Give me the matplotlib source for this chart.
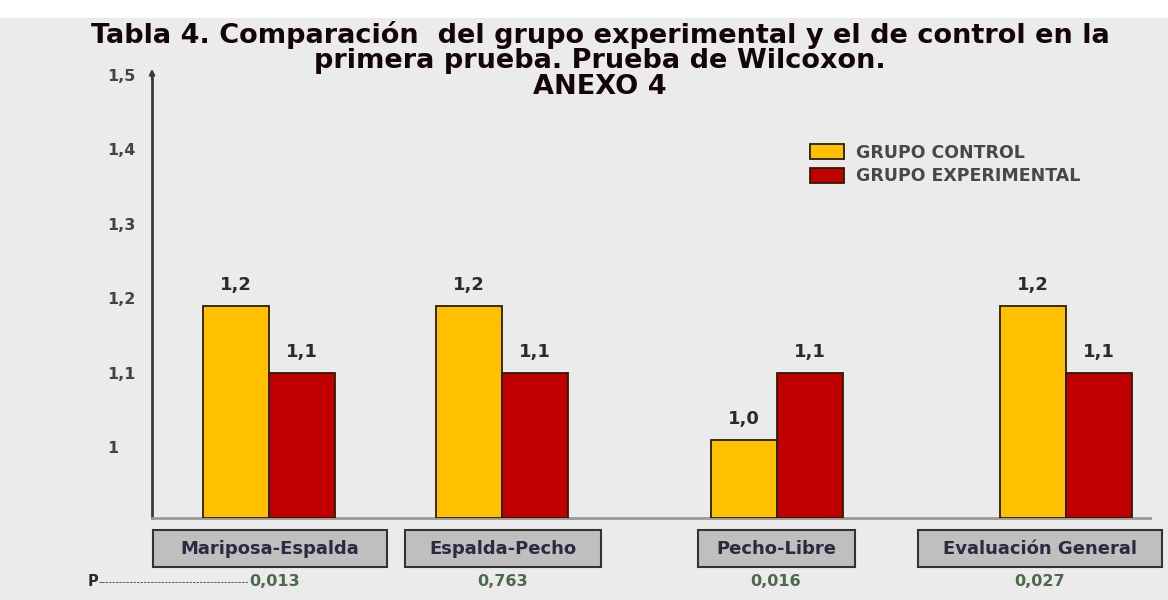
import matplotlib
matplotlib.use("Agg")
import matplotlib.pyplot as plt
from matplotlib.patches import Rectangle

# ---- data ----
categories = ["Mariposa-Espalda", "Espalda-Pecho", "Pecho-Libre", "Evaluación General"]
control = [1.19, 1.19, 1.01, 1.19]
experimental = [1.10, 1.10, 1.10, 1.10]
control_labels = ["1,2", "1,2", "1,0", "1,2"]
experimental_labels = ["1,1", "1,1", "1,1", "1,1"]
p_values = ["0,013", "0,763", "0,016", "0,027"]
yticks = [1.0, 1.1, 1.2, 1.3, 1.4, 1.5]
ytick_labels = ["1", "1,1", "1,2", "1,3", "1,4", "1,5"]
series_names = ["GRUPO CONTROL", "GRUPO EXPERIMENTAL"]
title_lines = ["Tabla 4. Comparación  del grupo experimental y el de control en la",
               "primera prueba. Prueba de Wilcoxon.",
               "ANEXO 4"]

# ---- layout / style ----
W, H = 11.68, 6.0
group_x = [1.17, 3.51, 6.26, 9.16]
bar_w = 0.66
label_x_px = [275, 503, 776, 1040]
box_px = [(153, 387), (405, 601), (698, 855), (918, 1162)]
c_yellow = "#FFC000"
c_red = "#C00000"
edge = "#2b1d00"
bg = "#ebebeb"
font = "DejaVu Sans"
base = 0.9046

fig = plt.figure(figsize=(W, H), dpi=100, facecolor=bg)
fig.patches.append(Rectangle((0, 1 - 18 / 600), 1, 18 / 600, transform=fig.transFigure,
                             facecolor="white", edgecolor="none", zorder=0))

ax = fig.add_axes([152 / 1168, 1 - 518 / 600, (1150 - 152) / 1168, (518 - 75) / 600])
ax.set_facecolor(bg)
ax.set_xlim(0, 10)
ax.set_ylim(base, 1.5)

bars_c = ax.bar([x - bar_w / 2 for x in group_x], [v - base for v in control], bar_w,
                bottom=base, color=c_yellow, edgecolor=edge, linewidth=1.3,
                label=series_names[0], zorder=3)
bars_e = ax.bar([x + bar_w / 2 for x in group_x], [v - base for v in experimental], bar_w,
                bottom=base, color=c_red, edgecolor=edge, linewidth=1.3,
                label=series_names[1], zorder=3)

for bars, labels in ((bars_c, control_labels), (bars_e, experimental_labels)):
    for b, t in zip(bars, labels):
        ax.text(b.get_x() + b.get_width() / 2, b.get_y() + b.get_height() + 0.016, t,
                ha="center", va="bottom", fontsize=13, fontweight="bold", color="#2a2a2a",
                family=font)

# axes styling
for s in ["top", "right"]:
    ax.spines[s].set_visible(False)
ax.spines["left"].set_color("#3a3a3a")
ax.spines["left"].set_linewidth(2)
ax.spines["bottom"].set_color("#9a9a9a")
ax.spines["bottom"].set_linewidth(2)
ax.set_xticks([])
ax.set_yticks(yticks)
ax.set_yticklabels(ytick_labels, fontsize=11.5, fontweight="bold", color="#3c4a3c", family=font)
ax.tick_params(axis="y", length=0, pad=32)
for lbl in ax.get_yticklabels():
    lbl.set_horizontalalignment("left")
ax.annotate("", xy=(0, 1.512), xytext=(0, 1.49), xycoords="data",
            arrowprops=dict(arrowstyle="-|>", color="#3a3a3a", lw=1.5, mutation_scale=8),
            annotation_clip=False)

# legend
ax.legend(handles=[bars_c, bars_e], labels=series_names, loc="upper left",
          bbox_to_anchor=((803 - 152) / 998, (518 - 137) / 443), frameon=False,
          prop={"family": font, "size": 12.5, "weight": "bold"}, labelcolor="#484848",
          handlelength=1.95, handleheight=0.95, labelspacing=0.3, handletextpad=0.7,
          borderaxespad=0)

# category boxes
for (x0, x1), cat in zip(box_px, categories):
    fig.patches.append(Rectangle((x0 / 1168, 1 - 567 / 600), (x1 - x0) / 1168, 37 / 600,
                                 transform=fig.transFigure, facecolor="#bfbfbf",
                                 edgecolor="#333333", linewidth=1.5, zorder=2))
    fig.text((x0 + x1) / 2 / 1168, 1 - 549 / 600, cat, ha="center", va="center",
             fontsize=13, fontweight="bold", color="#2a2a40", family=font, zorder=3)

# p-values
fig.text(88 / 1168, 1 - 582 / 600, "P", ha="left", va="center", fontsize=10.5,
         fontweight="bold", color="#2a2a2a", family=font)
fig.text(99 / 1168, 1 - 582 / 600, "-" * 43, ha="left", va="center", fontsize=7,
         color="#3c4a3c", family=font)
for lx, p in zip(label_x_px, p_values):
    fig.text(lx / 1168, 1 - 582 / 600, p, ha="center", va="center", fontsize=11.5,
             fontweight="bold", color="#4a6a4a", family=font)

# title
for t, y in zip(title_lines, [35, 61, 87]):
    fig.text(600 / 1168, 1 - y / 600, t, ha="center", va="center", fontsize=19.5,
             fontweight="bold", color="#140606", family=font)

fig.savefig("out.png", dpi=100, facecolor=bg)
